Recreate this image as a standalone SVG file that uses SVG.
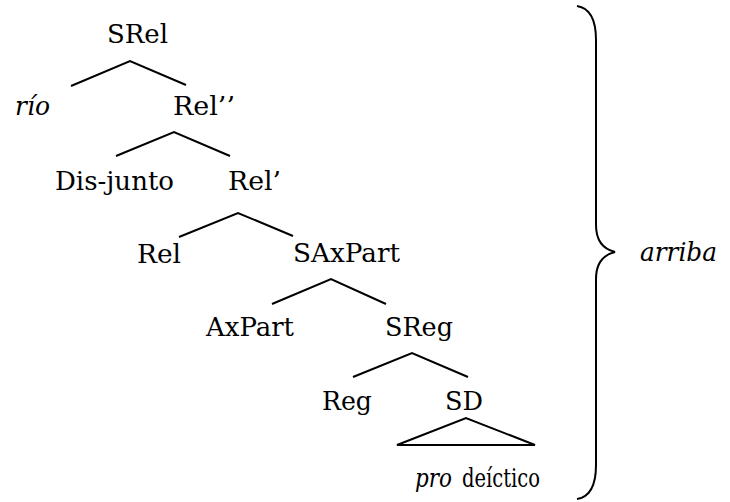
<svg xmlns="http://www.w3.org/2000/svg" width="730" height="502" viewBox="0 0 730 502">
<style>
text{font-family:"DejaVu Serif",serif;font-size:26px;fill:#000}
.it{font-style:italic}
.ln{stroke:#000;stroke-width:2;fill:none;stroke-linecap:butt}
</style>
<rect width="730" height="502" fill="#fff"/>
<g id="connectors" class="ln">
<polyline points="71,86 130,61 186,85"/>
<polyline points="116,156 174,132 230,156"/>
<polyline points="179,237 238,213 293,236"/>
<polyline points="272,304 331,279 386,304"/>
<polyline points="353,377 412,353 468,377"/>
<polygon points="397,445 466,418 535,445"/>
</g>
<g id="n-srel"><text x="107" y="43" textLength="61" lengthAdjust="spacingAndGlyphs">SRel</text></g>
<g id="n-rio"><text class="it" x="15" y="115" textLength="35" lengthAdjust="spacingAndGlyphs">río</text></g>
<g id="n-rel2"><text x="173" y="115" textLength="62" lengthAdjust="spacingAndGlyphs">Rel’’</text></g>
<g id="n-disjunto"><text x="55" y="190" textLength="119" lengthAdjust="spacingAndGlyphs">Dis-junto</text></g>
<g id="n-rel1"><text x="228" y="190" textLength="53" lengthAdjust="spacingAndGlyphs">Rel’</text></g>
<g id="n-rel"><text x="137" y="263" textLength="44" lengthAdjust="spacingAndGlyphs">Rel</text></g>
<g id="n-saxpart"><text x="293" y="262" textLength="107" lengthAdjust="spacingAndGlyphs">SAxPart</text></g>
<g id="n-axpart"><text x="206" y="336" textLength="88" lengthAdjust="spacingAndGlyphs">AxPart</text></g>
<g id="n-sreg"><text x="385" y="336" textLength="68" lengthAdjust="spacingAndGlyphs">SReg</text></g>
<g id="n-reg"><text x="322" y="410" textLength="50" lengthAdjust="spacingAndGlyphs">Reg</text></g>
<g id="n-sd"><text x="445" y="410" textLength="38" lengthAdjust="spacingAndGlyphs">SD</text></g>
<g id="n-pro"><text class="it" x="415" y="487" textLength="37" lengthAdjust="spacingAndGlyphs">pro</text><text x="462" y="487" textLength="78" lengthAdjust="spacingAndGlyphs">deíctico</text></g>
<g id="n-arriba"><text class="it" x="640" y="261" textLength="77" lengthAdjust="spacingAndGlyphs">arriba</text></g>
<g id="brace">
<path class="ln" d="M577,6 C590,8 596,20 596,40 L596,225 C596,240 603,249 615,252 C603,255 596,264 596,279 L596,465 C596,485 590,497 577,499"/>
</g>
</svg>
